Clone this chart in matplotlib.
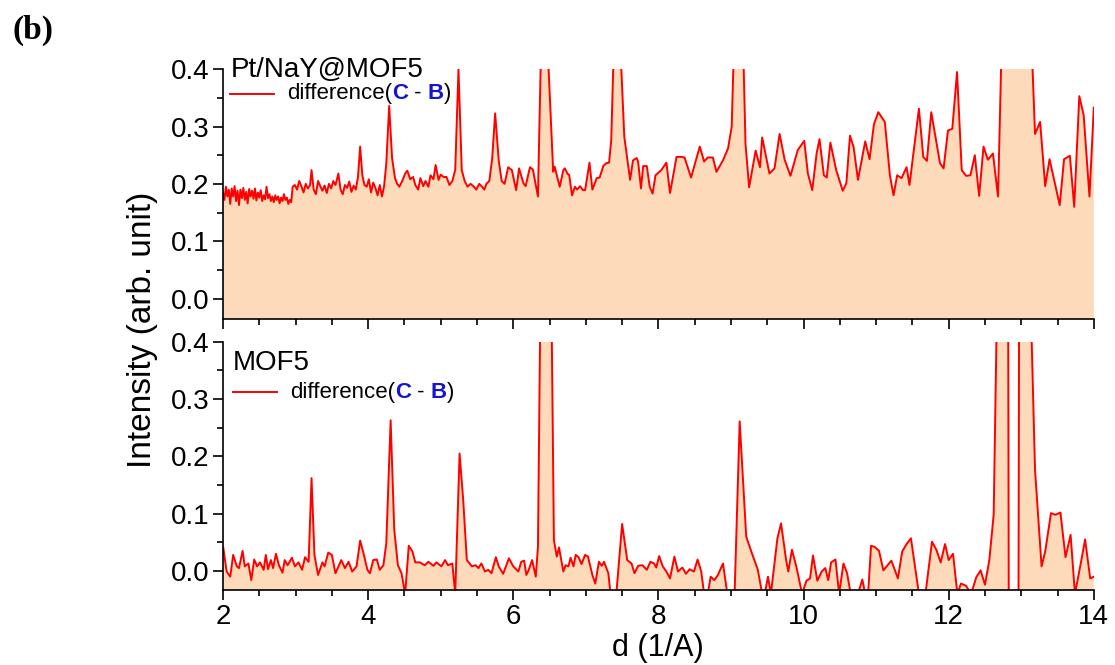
import matplotlib
matplotlib.use('Agg')
import matplotlib.pyplot as plt
from matplotlib.lines import Line2D
from matplotlib.offsetbox import AnchoredOffsetbox, DrawingArea, HPacker, TextArea
from matplotlib.ticker import MultipleLocator, FormatStrFormatter

plt.rcParams['font.family'] = ['Liberation Sans', 'DejaVu Sans']

# Pt/NaY@MOF5 difference curve, d (1/A) vs intensity
d_top = [2.00, 2.02, 2.04, 2.06, 2.08, 2.10, 2.12, 2.14, 2.16, 2.18, 2.20, 2.22, 2.24, 2.26, 2.28, 2.30,
         2.32, 2.34, 2.36, 2.38, 2.40, 2.42, 2.44, 2.46, 2.48, 2.50, 2.52, 2.54, 2.56, 2.58, 2.60, 2.62,
         2.64, 2.66, 2.68, 2.70, 2.72, 2.74, 2.76, 2.78, 2.80, 2.82, 2.84, 2.86, 2.88, 2.90, 2.92, 2.94,
         2.96, 2.99, 3.02, 3.05, 3.08, 3.11, 3.14, 3.17, 3.20, 3.22, 3.25, 3.28, 3.31, 3.34, 3.37, 3.40,
         3.43, 3.46, 3.49, 3.52, 3.55, 3.59, 3.62, 3.65, 3.68, 3.71, 3.74, 3.77, 3.80, 3.83, 3.86, 3.89,
         3.92, 3.95, 3.98, 4.01, 4.04, 4.07, 4.10, 4.13, 4.16, 4.19, 4.22, 4.25, 4.29, 4.33, 4.37, 4.40,
         4.43, 4.47, 4.51, 4.54, 4.58, 4.62, 4.65, 4.69, 4.72, 4.76, 4.79, 4.83, 4.86, 4.90, 4.93, 4.97,
         5.00, 5.04, 5.08, 5.12, 5.16, 5.20, 5.245, 5.29, 5.33, 5.37, 5.41, 5.45, 5.49, 5.53, 5.57, 5.60,
         5.63, 5.67, 5.71, 5.75, 5.80, 5.84, 5.88, 5.93, 5.98, 6.04, 6.08, 6.14, 6.17, 6.23, 6.27, 6.34,
         6.38, 6.43, 6.48, 6.55, 6.57, 6.64, 6.69, 6.71, 6.75, 6.77, 6.81, 6.85, 6.88, 6.92, 6.96, 6.99,
         7.05, 7.09, 7.15, 7.19, 7.24, 7.28, 7.32, 7.35, 7.42, 7.53, 7.61, 7.65, 7.70, 7.72, 7.76, 7.79,
         7.84, 7.88, 7.92, 7.96, 8.04, 8.11, 8.16, 8.25, 8.32, 8.36, 8.45, 8.57, 8.63, 8.68, 8.75, 8.80,
         8.89, 8.96, 9.01, 9.11, 9.20, 9.25, 9.34, 9.40, 9.43, 9.53, 9.60, 9.67, 9.74, 9.82, 9.92, 10.01,
         10.06, 10.12, 10.18, 10.22, 10.28, 10.32, 10.37, 10.45, 10.54, 10.59, 10.64, 10.69, 10.75, 10.85,
         10.91, 10.97, 11.03, 11.12, 11.19, 11.24, 11.29, 11.35, 11.42, 11.46, 11.59, 11.65, 11.70, 11.76,
         11.88, 11.93, 11.99, 12.05, 12.115, 12.18, 12.24, 12.30, 12.36, 12.42, 12.48, 12.54, 12.61, 12.68,
         12.75, 12.90, 13.10, 13.15, 13.19, 13.26, 13.33, 13.39, 13.53, 13.59, 13.67, 13.73, 13.80, 13.86,
         13.94, 14.00]
diff_top = [0.185, 0.172, 0.195, 0.178, 0.190, 0.165, 0.192, 0.178, 0.196, 0.170, 0.188, 0.163, 0.190, 0.175, 0.193, 0.172,
            0.186, 0.166, 0.191, 0.178, 0.188, 0.174, 0.192, 0.171, 0.185, 0.176, 0.189, 0.170, 0.180, 0.173, 0.195, 0.175,
            0.182, 0.170, 0.178, 0.168, 0.180, 0.172, 0.178, 0.166, 0.176, 0.170, 0.182, 0.172, 0.176, 0.165, 0.172, 0.168,
            0.195, 0.198, 0.190, 0.205, 0.196, 0.185, 0.200, 0.192, 0.198, 0.224, 0.190, 0.182, 0.205, 0.196, 0.188, 0.197,
            0.184, 0.200, 0.192, 0.205, 0.198, 0.218, 0.190, 0.182, 0.198, 0.193, 0.204, 0.186, 0.197, 0.190, 0.212, 0.265,
            0.215, 0.198, 0.195, 0.208, 0.185, 0.202, 0.193, 0.180, 0.198, 0.178, 0.196, 0.235, 0.336, 0.245, 0.210, 0.200,
            0.195, 0.205, 0.218, 0.223, 0.208, 0.212, 0.198, 0.190, 0.210, 0.196, 0.205, 0.195, 0.215, 0.208, 0.233, 0.207,
            0.216, 0.212, 0.212, 0.198, 0.205, 0.224, 0.400, 0.224, 0.205, 0.195, 0.200, 0.196, 0.190, 0.200, 0.195, 0.190,
            0.200, 0.205, 0.245, 0.323, 0.240, 0.205, 0.200, 0.229, 0.224, 0.189, 0.227, 0.201, 0.196, 0.229, 0.225, 0.178,
            0.42, 0.80, 0.42, 0.221, 0.230, 0.195, 0.224, 0.227, 0.217, 0.216, 0.180, 0.195, 0.190, 0.196, 0.189, 0.189,
            0.237, 0.190, 0.210, 0.211, 0.231, 0.236, 0.237, 0.276, 0.60, 0.282, 0.207, 0.241, 0.245, 0.239, 0.192, 0.231,
            0.231, 0.195, 0.183, 0.215, 0.224, 0.237, 0.184, 0.247, 0.247, 0.246, 0.211, 0.265, 0.239, 0.246, 0.246, 0.221,
            0.241, 0.262, 0.300, 0.75, 0.270, 0.194, 0.258, 0.229, 0.281, 0.218, 0.227, 0.287, 0.242, 0.214, 0.259, 0.275,
            0.218, 0.189, 0.253, 0.278, 0.215, 0.211, 0.272, 0.224, 0.188, 0.201, 0.284, 0.264, 0.207, 0.274,
            0.243, 0.304, 0.325, 0.308, 0.215, 0.180, 0.215, 0.210, 0.229, 0.198, 0.331, 0.247, 0.240, 0.325,
            0.236, 0.227, 0.293, 0.296, 0.395, 0.224, 0.214, 0.215, 0.250, 0.179, 0.265, 0.242, 0.253, 0.178,
            0.55, 0.90, 0.60, 0.42, 0.287, 0.308, 0.196, 0.243, 0.163, 0.243, 0.249, 0.160, 0.353, 0.320,
            0.178, 0.333]

# MOF5 difference curve
d_bot = [2.005, 2.05, 2.10, 2.14, 2.19, 2.22, 2.27, 2.30, 2.35, 2.39, 2.43, 2.47, 2.51, 2.56, 2.59, 2.62,
         2.66, 2.69, 2.73, 2.77, 2.82, 2.85, 2.89, 2.95, 2.99, 3.04, 3.09, 3.13, 3.18, 3.22, 3.26, 3.31,
         3.37, 3.40, 3.45, 3.50, 3.55, 3.63, 3.68, 3.73, 3.78, 3.84, 3.89, 3.93, 3.99, 4.025, 4.07, 4.12,
         4.16, 4.21, 4.25, 4.31, 4.36, 4.41, 4.46, 4.51, 4.56, 4.61, 4.65, 4.71, 4.78, 4.83, 4.90, 4.94,
         5.01, 5.06, 5.10, 5.16, 5.20, 5.26, 5.31, 5.36, 5.43, 5.48, 5.52, 5.56, 5.61, 5.655, 5.70, 5.76,
         5.80, 5.86, 5.94, 6.00, 6.07, 6.11, 6.15, 6.18, 6.21, 6.26, 6.31, 6.34, 6.37, 6.45, 6.53, 6.56,
         6.60, 6.63, 6.69, 6.72, 6.76, 6.79, 6.83, 6.86, 6.90, 6.94, 6.99, 7.03, 7.09, 7.13, 7.18, 7.22,
         7.25, 7.31, 7.34, 7.42, 7.50, 7.57, 7.63, 7.67, 7.72, 7.78, 7.84, 7.89, 7.94, 7.97, 8.01, 8.06,
         8.11, 8.16, 8.22, 8.27, 8.33, 8.38, 8.43, 8.49, 8.54, 8.59, 8.63, 8.68, 8.72, 8.77, 8.82, 8.89,
         8.95, 9.05, 9.12, 9.21, 9.28, 9.37, 9.43, 9.465, 9.51, 9.55, 9.64, 9.69, 9.76, 9.79, 9.84, 9.90,
         9.98, 10.04, 10.09, 10.13, 10.19, 10.25, 10.30, 10.34, 10.38, 10.44, 10.49, 10.55, 10.60, 10.65,
         10.75, 10.81, 10.85, 10.89, 10.93, 10.98, 11.04, 11.10, 11.21, 11.30, 11.36, 11.42, 11.48, 11.59,
         11.68, 11.77, 11.83, 11.89, 11.95, 12.00, 12.06, 12.12, 12.17, 12.24, 12.31, 12.38, 12.44, 12.50,
         12.56, 12.62, 12.66, 12.74, 12.82, 12.83, 12.96, 12.97, 13.06, 13.14, 13.19, 13.28, 13.33, 13.41,
         13.47, 13.54, 13.61, 13.68, 13.74, 13.82, 13.88, 13.95, 14.00]
diff_bot = [0.040, -0.001, -0.010, 0.028, 0.008, 0.005, 0.035, 0.008, 0.013, -0.016, 0.020, 0.008, 0.015, 0.002, 0.028, 0.003,
            0.019, 0.005, 0.030, 0.010, -0.003, 0.019, 0.010, 0.023, 0.008, 0.015, 0.002, 0.024, 0.016, 0.162, 0.028, -0.007,
            0.015, 0.008, 0.032, 0.028, -0.004, 0.019, 0.005, 0.016, -0.001, 0.008, 0.053, 0.034, 0.002, -0.004, 0.019, 0.020,
            0.002, 0.010, 0.048, 0.263, 0.072, 0.010, -0.004, -0.040, 0.044, 0.034, 0.015, 0.015, 0.010, 0.016, 0.009, 0.015,
            0.008, 0.019, 0.010, 0.013, -0.040, 0.205, 0.124, 0.019, 0.008, 0.010, 0.005, 0.013, -0.001, 0.002, -0.004, 0.024,
            0.008, -0.005, 0.022, 0.008, -0.001, 0.016, 0.018, -0.007, 0.001, 0.019, -0.010, 0.042, 0.42, 0.90, 0.42, 0.054,
            0.025, 0.041, -0.001, 0.010, 0.008, 0.023, 0.008, 0.028, 0.024, 0.012, 0.028, 0.025, -0.007, -0.022, 0.016, 0.009,
            0.016, -0.004, -0.040, -0.040, 0.082, 0.019, 0.013, -0.004, 0.009, 0.010, 0.002, 0.016, 0.013, 0.006, 0.026, 0.008,
            -0.001, -0.013, 0.025, -0.001, 0.006, -0.005, 0.003, -0.001, 0.020, -0.001, -0.040, -0.040, -0.010, -0.016, -0.007, 0.013,
            -0.040, -0.040, 0.261, 0.060, 0.034, 0.002, -0.040, -0.040, -0.010, -0.040, 0.057, 0.083, 0.019, -0.001, 0.037, 0.008,
            -0.040, -0.017, -0.013, 0.027, -0.017, -0.001, 0.005, -0.016, 0.015, 0.020, -0.040, 0.013, -0.004, -0.040,
            -0.040, -0.015, -0.040, -0.040, 0.044, 0.042, 0.035, 0.001, 0.018, -0.013, 0.034, 0.047, 0.057, -0.040,
            -0.040, 0.051, 0.037, 0.015, 0.047, 0.019, 0.030, -0.040, -0.022, -0.026, -0.040, -0.011, 0.001, -0.024,
            0.019, 0.098, 0.42, 0.90, 0.45, -0.20, -0.20, 0.45, 0.90, 0.42, 0.176, 0.008, 0.034, 0.101,
            0.098, 0.102, 0.024, 0.063, -0.040, 0.013, 0.055, -0.013, -0.010]

sample_names = ['Pt/NaY@MOF5', 'MOF5']

FILL = '#FDDAB9'
LINE = '#FF0000'
BLUE = '#1414D2'


def style_axes(ax, ylo):
    ax.set_xlim(2, 14)
    ax.set_ylim(ylo, 0.4)
    ax.spines['top'].set_visible(False)
    ax.spines['right'].set_visible(False)
    ax.spines['left'].set_linewidth(1.2)
    ax.spines['bottom'].set_linewidth(1.2)
    ax.xaxis.set_major_locator(MultipleLocator(2))
    ax.xaxis.set_minor_locator(MultipleLocator(0.5))
    ax.yaxis.set_major_locator(MultipleLocator(0.1))
    ax.yaxis.set_minor_locator(MultipleLocator(0.05))
    ax.yaxis.set_major_formatter(FormatStrFormatter('%.1f'))
    ax.tick_params(which='major', direction='out', length=7, width=1.2, labelsize=20, pad=3)
    ax.tick_params(which='minor', direction='out', length=4, width=1.2)


def diff_legend(ax, xa, ya):
    da = DrawingArea(32, 10, 0, 0)
    da.add_artist(Line2D([0, 32], [5, 5], color=LINE, lw=1.4))
    fs = 16
    parts = [TextArea('difference(', textprops=dict(size=fs)),
             TextArea('C', textprops=dict(size=fs, color=BLUE, weight='bold')),
             TextArea(' - ', textprops=dict(size=fs)),
             TextArea('B', textprops=dict(size=fs, color=BLUE, weight='bold')),
             TextArea(')', textprops=dict(size=fs))]
    txt = HPacker(children=parts, align='baseline', pad=0, sep=0)
    row = HPacker(children=[da, txt], align='center', pad=0, sep=9)
    box = AnchoredOffsetbox(loc='center left', child=row, pad=0, borderpad=0, frameon=False,
                            bbox_to_anchor=(xa, ya), bbox_transform=ax.transAxes)
    ax.add_artist(box)


fig = plt.figure(figsize=(11.15, 6.65), dpi=100)
ax_top = fig.add_axes([0.200, 0.520, 0.781, 0.376])
ax_bot = fig.add_axes([0.200, 0.113, 0.781, 0.373])

ax_top.fill_between(d_top, diff_top, -1, color=FILL, lw=0)
ax_top.plot(d_top, diff_top, color=LINE, lw=1.4)
ax_bot.fill_between(d_bot, diff_bot, -1, color=FILL, lw=0)
ax_bot.plot(d_bot, diff_bot, color=LINE, lw=1.4)

style_axes(ax_top, -0.036)
style_axes(ax_bot, -0.033)
ax_top.tick_params(labelbottom=False)

ax_top.text(0.009, 0.969, sample_names[0], transform=ax_top.transAxes, size=20, va='baseline')
ax_bot.text(0.0115, 0.886, sample_names[1], transform=ax_bot.transAxes, size=20, va='baseline')
diff_legend(ax_top, 0.008, 0.901)
diff_legend(ax_bot, 0.0115, 0.797)

fig.text(0.128, 0.504, 'Intensity (arb. unit)', rotation=90, ha='center', va='center', size=24)
fig.text(0.590, 0.026, 'd (1/A)', ha='center', va='center', size=22)
fig.text(0.011, 0.955, '(b)', family=['Liberation Serif', 'DejaVu Serif'], weight='bold', size=24,
         ha='left', va='center')

fig.savefig('out.png', dpi=100)
